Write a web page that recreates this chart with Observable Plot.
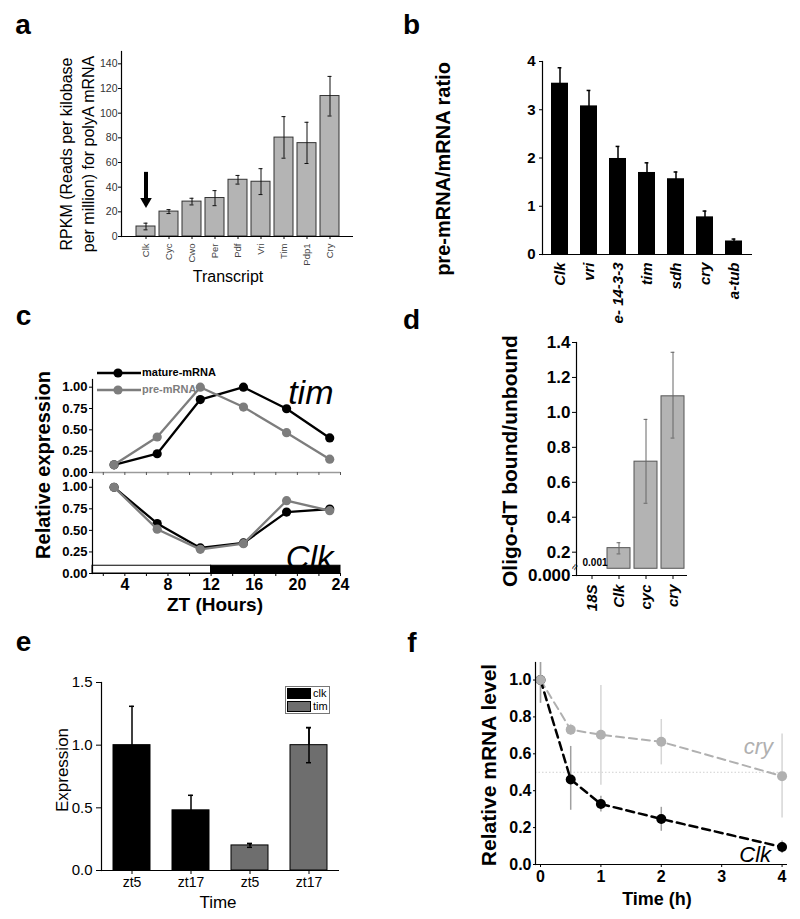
<!DOCTYPE html>
<html><head><meta charset="utf-8">
<script src="https://cdn.jsdelivr.net/npm/d3@7"></script>
<script src="https://cdn.jsdelivr.net/npm/@observablehq/plot@0.6"></script>
<style>
body{margin:0;background:#fff;font-family:"Liberation Sans",Arial,sans-serif;}
#root{position:relative;width:800px;height:919px;overflow:hidden;background:#fff;}
.panel{position:absolute;}
.panel svg{overflow:visible;}
</style></head><body><div id="root"></div>
<script>
// ---------- DATA ----------
// Panel a
const aTranscripts = ["Clk","Cyc","Cwo","Per","Pdf","Vri","Tim","Pdp1","Cry"];
const aRpkm    = [8.1, 20.2, 28.3, 31.2, 46.0, 44.4, 80.2, 75.7, 113.9];
const aErrLow  = [5.4, 18.6, 25.6, 25.0, 42.5, 34.0, 63.5, 59.2, 97.7];
const aErrHigh = [10.8, 21.8, 31.0, 37.2, 49.5, 55.0, 97.2, 92.6, 129.8];
const aYTicks  = [0,20,40,60,80,100,120,140];
const aArrow   = [{t:"Clk", from:52, to:28.5}];
// Panel b
const bGenes = ["Clk","vri","e- 14-3-3","tim","sdh","cry","a-tub"];
const bRatio = [3.55, 3.08, 1.99, 1.70, 1.57, 0.78, 0.28];
const bErr   = [0.32, 0.32, 0.25, 0.20, 0.14, 0.12, 0.04];
const bYTicks = [0,1,2,3,4];
// Panel c
const cZT = [3,7,11,15,19,23];
const cTimMature = [0.09, 0.22, 0.855, 1.00, 0.747, 0.405];
const cTimPre    = [0.09, 0.416, 1.00, 0.767, 0.467, 0.156];
const cClkMature = [1.00, 0.58, 0.296, 0.354, 0.712, 0.747];
const cClkPre    = [1.00, 0.514, 0.28, 0.346, 0.844, 0.728];
const cYTicks = [0,0.25,0.5,0.75,1];
const cXTicks = [4,8,12,16,20,24];
const cXMinor = [2,6,10,14,18,22];
const cPhases = [{x1:1,x2:12,phase:"light"},{x1:12,x2:24,phase:"dark"}];
const cPhaseHeight = 0.09;
// Panel d
const dGenes = ["18S","Clk","cyc","cry"];
const dRatio = [0.001, 0.223, 0.718, 1.092];
const dErrLow  = [0.001, 0.19, 0.48, 0.853];
const dErrHigh = [0.001, 0.254, 0.96, 1.344];
const dYTicks = [0.2,0.4,0.6,0.8,1.0,1.2,1.4];
const dBreak = 0.105;      // bars start above the axis break
const dAxisFloor = 0.0665; // value shown as 0.000 below the break
// Panel e
const eKeys   = ["clk-zt5","clk-zt17","tim-zt5","tim-zt17"];
const eTimes  = ["zt5","zt17","zt5","zt17"];
const eGenes  = ["clk","clk","tim","tim"];
const eValues = [1.00, 0.48, 0.20, 1.00];
const eErr    = [0.31, 0.12, 0.015, 0.14];
const eYTicks = [0,0.5,1.0,1.5];
// Panel f
const fTime = [0, 0.5, 1, 2, 4];
const fCry     = [1.00, 0.731, 0.703, 0.665, 0.479];
const fCryLow  = [0.874, 0.70, 0.43, 0.54, 0.252];
const fCryHigh = [1.095, 0.76, 0.97, 0.786, 0.708];
const fClk     = [1.00, 0.461, 0.328, 0.247, 0.095];
const fClkLow  = [0.874, 0.294, 0.285, 0.18, 0.06];
const fClkHigh = [1.095, 0.64, 0.37, 0.31, 0.128];
const fHalf = 0.5;
const fXTicks = [0,1,2,3,4];
const fYTicks = [0,0.2,0.4,0.6,0.8,1.0];

// ---------- HELPERS ----------
const FONT = "'Liberation Sans', Arial, Helvetica, sans-serif";
const root = document.getElementById("root");
function place(el, left, top){
  const w = document.createElement("div");
  w.className = "panel"; w.style.left = left+"px"; w.style.top = top+"px";
  w.appendChild(el); root.appendChild(w);
}
function label(text, cx, cy, o = {}){
  const d = document.createElement("div");
  d.textContent = text;
  const size = o.size || 14;
  Object.assign(d.style, {
    position:"absolute", left:cx+"px", top:cy+"px",
    transform:"translate(-50%,-50%)" + (o.rotate ? " rotate(-90deg)" : ""),
    fontSize:size+"px", lineHeight:(o.lh || size)+"px",
    fontWeight:o.weight || "normal", fontStyle:o.style || "normal",
    color:o.color || "#000", whiteSpace:"pre", textAlign:"center", fontFamily:FONT
  });
  root.appendChild(d);
}
const base = (bold) => ({background:"transparent", fontFamily:FONT, overflow:"visible", fontWeight: bold ? "bold" : "normal", color:"#000"});
const fmtInt = d3.format("d");
const fmt1 = d3.format(".1f");
const fmt2 = d3.format(".2f");

// ---------- PANEL A ----------
const aData = aTranscripts.map((t,i)=>({t, v:aRpkm[i], lo:aErrLow[i], hi:aErrHigh[i]}));
place(Plot.plot({
  width:380, height:250, marginLeft:121, marginRight:27, marginTop:11, marginBottom:54,
  style: base(false),
  x:{domain:aTranscripts, paddingInner:0.18, paddingOuter:0.59},
  y:{domain:[0,150]},
  marks:[
    Plot.barY(aData,{x:"t", y:"v", fill:"#b4b4b4", stroke:"#333", strokeWidth:1}),
    Plot.ruleX(aData,{x:"t", y1:"lo", y2:"hi", stroke:"#111", strokeWidth:1}),
    Plot.tickY(aData,{x:"t", y:"lo", insetLeft:7.5, insetRight:7.5, stroke:"#111"}),
    Plot.tickY(aData,{x:"t", y:"hi", insetLeft:7.5, insetRight:7.5, stroke:"#111"}),
    Plot.ruleX(aArrow,{x:"t", y1:"from", y2:"to", strokeWidth:4, stroke:"#000"}),
    Plot.dot(aArrow,{x:"t", y:"to", symbol:"triangle", r:4.3, rotate:180, fill:"#000", stroke:"none"}),
    Plot.ruleY([0],{stroke:"#000", strokeWidth:1.2}),
    Plot.frame({anchor:"left", stroke:"#000", strokeWidth:1.2}),
    Plot.axisY({ticks:aYTicks, tickFormat:fmtInt, tickSize:3, tickPadding:1, fontSize:10.5, label:null, fill:"#333"}),
    Plot.axisX({tickRotate:-90, tickSize:3, tickPadding:4, fontSize:9.5, label:null, fill:"#444"})
  ]
}), 0, 40);
label("RPKM (Reads per kilobase\nper million) for polyA mRNA", 78, 154, {size:16, lh:22, rotate:true});
label("Transcript", 228, 276.5, {size:16});

// ---------- PANEL B ----------
const bData = bGenes.map((g,i)=>({g, v:bRatio[i], e:bRatio[i]+bErr[i], lo:bRatio[i]-bErr[i]}));
place(Plot.plot({
  width:400, height:300, marginLeft:142, marginRight:48, marginTop:21, marginBottom:86,
  style: base(true),
  x:{domain:bGenes, paddingInner:0.41, paddingOuter:0.3},
  y:{domain:[0,4]},
  marks:[
    Plot.ruleX(bData,{x:"g", y1:"lo", y2:"e", strokeWidth:1.5}),
    Plot.tickY(bData,{x:"g", y:"e", insetLeft:6.6, insetRight:6.6, strokeWidth:1.5}),
    Plot.barY(bData,{x:"g", y:"v", fill:"#000"}),
    Plot.ruleY([0],{strokeWidth:1.2}),
    Plot.frame({anchor:"left", strokeWidth:1.2}),
    Plot.axisY({ticks:bYTicks, tickFormat:fmtInt, tickSize:3, tickPadding:4, fontSize:15, label:null}),
    Plot.axisX({tickRotate:-90, tickSize:0, tickPadding:8, fontSize:15, fontStyle:"italic", label:null})
  ]
}), 400, 40);
label("pre-mRNA/mRNA ratio", 443, 169, {size:20, weight:"bold", rotate:true});

// ---------- PANEL C ----------
const cRows = (ys, s) => cZT.map((x,i)=>({x, y:ys[i], s}));
const cMarks = (mature, pre) => [
  Plot.line(cRows(mature,"m"),{x:"x", y:"y", stroke:"#000", strokeWidth:2.3}),
  Plot.dot(cRows(mature,"m"),{x:"x", y:"y", r:4.6, fill:"#000"}),
  Plot.line(cRows(pre,"p"),{x:"x", y:"y", stroke:"#7d7d7d", strokeWidth:2.3}),
  Plot.dot(cRows(pre,"p"),{x:"x", y:"y", r:4.6, fill:"#7d7d7d"})
];
place(Plot.plot({
  width:380, height:110, marginLeft:92, marginRight:40, marginTop:9, marginBottom:8,
  style: base(true),
  x:{domain:[1,24]}, y:{domain:[0,1.09]},
  marks:[
    Plot.ruleY([0],{stroke:"#9a9a9a", strokeWidth:1.5}),
    Plot.axisX({ticks:cXTicks.concat(cXMinor), tickSize:3, tickFormat:()=>"", stroke:"#555", label:null}),
    Plot.frame({anchor:"left", strokeWidth:1.2}),
    Plot.axisY({ticks:cYTicks, tickFormat:fmt2, tickSize:3, tickPadding:2, fontSize:13, label:null}),
    ...cMarks(cTimMature, cTimPre),
    Plot.text(["tim"],{text:d=>d, frameAnchor:"top-right", textAnchor:"end", lineAnchor:"top", dx:-7, fontSize:34, fontStyle:"italic", fontWeight:"normal"})
  ]
}), 0, 370);
place(Plot.plot({
  width:380, height:150, marginLeft:92, marginRight:40, marginTop:9, marginBottom:47,
  style: base(true),
  x:{domain:[1,24]}, y:{domain:[0,1.09]},
  marks:[
    Plot.rect(cPhases,{x1:"x1", x2:"x2", y1:0, y2:cPhaseHeight, fill:d=>d.phase==="light"?"#fff":"#000", stroke:"#000", strokeWidth:1}),
    Plot.ruleY([0],{strokeWidth:1.2}),
    Plot.frame({anchor:"left", strokeWidth:1.2}),
    Plot.axisX({ticks:cXTicks, tickFormat:fmtInt, tickSize:3, tickPadding:2, fontSize:16, label:null}),
    Plot.axisX({ticks:cXMinor, tickSize:3, tickFormat:()=>"", label:null}),
    Plot.axisY({ticks:cYTicks, tickFormat:fmt2, tickSize:3, tickPadding:2, fontSize:13, label:null}),
    ...cMarks(cClkMature, cClkPre),
    Plot.text(["Clk"],{text:d=>d, frameAnchor:"bottom-right", textAnchor:"end", lineAnchor:"bottom", dx:-7, dy:-5, fontSize:33, fontStyle:"italic", fontWeight:"normal"})
  ]
}), 0, 470);
label("Relative expression", 43, 465, {size:20, weight:"bold", rotate:true});
label("ZT (Hours)", 215, 604, {size:19, weight:"bold"});
// legend for panel c
(function(){
  const ns = "http://www.w3.org/2000/svg";
  const s = document.createElementNS(ns,"svg");
  s.setAttribute("width","60"); s.setAttribute("height","30");
  [[0,"#000"],[17,"#7d7d7d"]].forEach(([dy,c])=>{
    const l = document.createElementNS(ns,"line");
    l.setAttribute("x1","0"); l.setAttribute("x2","44"); l.setAttribute("y1",5+dy); l.setAttribute("y2",5+dy);
    l.setAttribute("stroke",c); l.setAttribute("stroke-width","2.3"); s.appendChild(l);
    const ci = document.createElementNS(ns,"circle");
    ci.setAttribute("cx","21"); ci.setAttribute("cy",5+dy); ci.setAttribute("r","4.6"); ci.setAttribute("fill",c); s.appendChild(ci);
  });
  place(s, 97, 367.5);
  const t1 = document.createElement("div");
  t1.textContent = "mature-mRNA";
  Object.assign(t1.style,{position:"absolute",left:"142px",top:"366px",fontSize:"11px",lineHeight:"13px",fontWeight:"bold",fontFamily:FONT,color:"#000"});
  root.appendChild(t1);
  const t2 = document.createElement("div");
  t2.textContent = "pre-mRNA";
  Object.assign(t2.style,{position:"absolute",left:"142px",top:"383px",fontSize:"11px",lineHeight:"13px",fontWeight:"bold",fontFamily:FONT,color:"#7d7d7d"});
  root.appendChild(t2);
})();

// ---------- PANEL D ----------
const dData = dGenes.map((g,i)=>({g, v:dRatio[i], lo:dErrLow[i], hi:dErrHigh[i]}));
const dBars = dData.filter(d=>d.v>dBreak);
const dTiny = dData.filter(d=>d.v<=dBreak);
place(Plot.plot({
  width:400, height:290, marginLeft:176, marginRight:113, marginTop:12, marginBottom:45,
  style: base(true),
  x:{domain:dGenes, paddingInner:0.16, paddingOuter:0.08},
  y:{domain:[dAxisFloor,1.4]},
  marks:[
    Plot.barY(dBars,{x:"g", y1:dBreak, y2:"v", fill:"#b3b3b3", stroke:"#555", strokeWidth:1}),
    Plot.ruleX(dBars,{x:"g", y1:"lo", y2:"hi", stroke:"#666", strokeWidth:1}),
    Plot.tickY(dBars,{x:"g", y:"lo", insetLeft:9.6, insetRight:9.6, stroke:"#666"}),
    Plot.tickY(dBars,{x:"g", y:"hi", insetLeft:9.6, insetRight:9.6, stroke:"#666"}),
    Plot.text(dTiny,{x:"g", y:dBreak, text:d=>d3.format(".3f")(d.v), dy:-6, fontSize:10, dx:3}),
    Plot.ruleY([dAxisFloor],{strokeWidth:1.2}),
    Plot.frame({anchor:"left", strokeWidth:1.2}),
    Plot.text(["≈"],{text:d=>d, frameAnchor:"bottom-left", dy:-4, fontSize:11, fontWeight:"normal", rotate:-60}),
    Plot.axisY({ticks:[dAxisFloor, ...dYTicks], tickFormat:d=>d===dAxisFloor?"0.000":fmt1(d), tickSize:4, tickPadding:2, fontSize:17, label:null}),
    Plot.axisX({tickRotate:-90, tickSize:4, tickPadding:5, fontSize:15, fontStyle:"italic", label:null})
  ]
}), 400, 330);
label("Oligo-dT bound/unbound", 509, 461, {size:21, weight:"bold", rotate:true});

// ---------- PANEL E ----------
const eData = eKeys.map((k,i)=>({k, t:eTimes[i], g:eGenes[i], v:eValues[i], lo:eValues[i]-eErr[i], hi:eValues[i]+eErr[i]}));
place(Plot.plot({
  width:380, height:259, marginLeft:101, marginRight:41, marginTop:22, marginBottom:49,
  style: base(false),
  x:{domain:eKeys, paddingInner:0.38, paddingOuter:0.2},
  y:{domain:[0,1.5]},
  marks:[
    Plot.ruleX(eData,{x:"k", y1:"lo", y2:"hi", strokeWidth:1.5}),
    Plot.tickY(eData,{x:"k", y:"hi", insetLeft:16, insetRight:16, strokeWidth:1.5}),
    Plot.tickY(eData,{x:"k", y:"lo", insetLeft:16, insetRight:16, strokeWidth:1.5}),
    Plot.barY(eData.filter(d=>d.g==="clk"),{x:"k", y:"v", fill:"#000", stroke:"#000"}),
    Plot.barY(eData.filter(d=>d.g==="tim"),{x:"k", y:"v", fill:"#6e6e6e", stroke:"#000", strokeWidth:1}),
    Plot.ruleX(eData.filter(d=>d.g==="tim"),{x:"k", y1:"lo", y2:"hi", strokeWidth:1.5}),
    Plot.tickY(eData.filter(d=>d.g==="tim"),{x:"k", y:"hi", insetLeft:16, insetRight:16, strokeWidth:1.5}),
    Plot.tickY(eData.filter(d=>d.g==="tim"),{x:"k", y:"lo", insetLeft:16, insetRight:16, strokeWidth:1.5}),
    Plot.ruleY([0],{strokeWidth:1.2}),
    Plot.frame({anchor:"left", strokeWidth:1.2}),
    Plot.axisY({ticks:eYTicks, tickFormat:fmt1, tickSize:5, tickPadding:4, fontSize:15, label:null}),
    Plot.axisX({tickFormat:(k)=>eTimes[eKeys.indexOf(k)], tickSize:4, tickPadding:3, fontSize:14, label:null})
  ]
}), 0, 660);
label("Expression", 62, 770, {size:17, rotate:true});
label("Time", 218, 902, {size:17});
// legend for panel e
(function(){
  const box = document.createElement("div");
  Object.assign(box.style,{position:"absolute",left:"285px",top:"686px",width:"43px",height:"26px",border:"1px solid #777",background:"#fff",fontFamily:FONT});
  [["clk","#000",0],["tim","#6e6e6e",13]].forEach(([n,c,y])=>{
    const sw = document.createElement("div");
    Object.assign(sw.style,{position:"absolute",left:"1px",top:(y+1)+"px",width:"24px",height:"11px",background:c,border:"0.5px solid #000",boxSizing:"border-box"});
    box.appendChild(sw);
    const t = document.createElement("div");
    t.textContent = n;
    Object.assign(t.style,{position:"absolute",left:"27px",top:(y)+"px",fontSize:"11px",lineHeight:"13px",color:"#000"});
    box.appendChild(t);
  });
  root.appendChild(box);
})();

// ---------- PANEL F ----------
const fRows = (v, lo, hi) => fTime.map((t,i)=>({t, v:v[i], lo:lo[i], hi:hi[i]}));
const fCryData = fRows(fCry, fCryLow, fCryHigh);
const fClkData = fRows(fClk, fClkLow, fClkHigh);
const fLast = (arr) => [arr[arr.length-1]];
place(Plot.plot({
  width:400, height:269, marginLeft:135, marginRight:13, marginTop:12, marginBottom:55,
  style: base(true),
  x:{domain:[-0.083,4.09]}, y:{domain:[0,1.095]},
  marks:[
    Plot.ruleY([fHalf],{stroke:"#d0d0d0", strokeDasharray:"1.5,2"}),
    Plot.ruleX(fCryData,{x:"t", y1:"lo", y2:"hi", stroke:"#d6d6d6", strokeWidth:1.5}),
    Plot.ruleX(fClkData,{x:"t", y1:"lo", y2:"hi", stroke:"#a0a0a0", strokeWidth:1.5}),
    Plot.line(fCryData,{x:"t", y:"v", stroke:"#b0b0b0", strokeWidth:2, strokeDasharray:"8,5"}),
    Plot.line(fClkData,{x:"t", y:"v", stroke:"#000", strokeWidth:2.5, strokeDasharray:"8,5"}),
    Plot.dot(fClkData,{x:"t", y:"v", r:5, fill:"#000"}),
    Plot.dot(fCryData,{x:"t", y:"v", r:5, fill:"#b0b0b0"}),
    Plot.text(fLast(fCryData),{x:"t", y:"v", text:()=> "cry", textAnchor:"end", dx:-9, dy:-29, fontSize:22, fontStyle:"italic", fontWeight:"normal", fill:"#b0b0b0"}),
    Plot.text(fLast(fClkData),{x:"t", y:"v", text:()=> "Clk", textAnchor:"end", dx:-11, dy:8, fontSize:22, fontStyle:"italic", fontWeight:"normal", fill:"#000"}),
    Plot.ruleY([0],{strokeWidth:1.2}),
    Plot.frame({anchor:"left", strokeWidth:1.2}),
    Plot.axisY({ticks:fYTicks, tickFormat:fmt1, tickSize:2, tickPadding:2, fontSize:16, label:null}),
    Plot.axisX({ticks:fXTicks, tickFormat:fmtInt, tickSize:3, tickPadding:3, fontSize:16, label:null})
  ]
}), 400, 650);
label("Relative mRNA level", 488, 765, {size:21, weight:"bold", rotate:true});
label("Time (h)", 657, 899, {size:18, weight:"bold"});

// ---------- PANEL LETTERS ----------
label("a", 23, 25.3, {size:28, weight:"bold"});
label("b", 411.5, 25.3, {size:28, weight:"bold"});
label("c", 23.5, 316.3, {size:28, weight:"bold"});
label("d", 411.5, 320.3, {size:28, weight:"bold"});
label("e", 23.5, 642.3, {size:28, weight:"bold"});
label("f", 412, 643.3, {size:28, weight:"bold"});
</script>
</body></html>
